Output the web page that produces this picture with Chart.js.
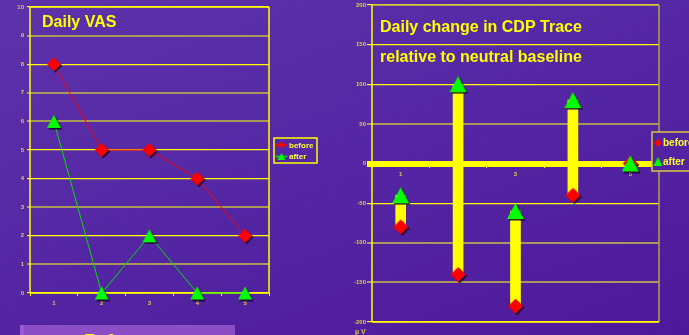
<!DOCTYPE html>
<html>
<head>
<meta charset="utf-8">
<script src="https://cdn.jsdelivr.net/npm/chart.js@4.4.1/dist/chart.umd.min.js"></script>
<style>
  html, body {
    margin: 0; padding: 0; width: 689px; height: 335px; overflow: hidden;
    background: linear-gradient(160deg, #5c32aa 0%, #5426a4 50%, #4e189a 100%);
    font-family: "Liberation Sans", Arial, sans-serif;
  }
  #vas { position: absolute; left: 0; top: 0; }
  #cdp { position: absolute; left: 330px; top: 0; }
  #refbtn {
    position: absolute; left: 20px; top: 325px; width: 215px; height: 30px;
    background: #8c4ec5; border-left: 4px solid #9c5ad2; box-sizing: border-box;
  }
  #refbtn span {
    position: absolute; left: 60px; top: 6px;
    font: bold 18px "Liberation Sans", Arial, sans-serif; color: #ffff00;
  }
</style>
</head>
<body>
<canvas id="vas" width="330" height="335"></canvas>
<canvas id="cdp" width="359" height="335"></canvas>
<div id="refbtn"><span>Reference</span></div>
<script>
// Days of the study
const days = ['1', '2', '3', '4', '5'];

// Daily VAS scores
const vasBefore = [8, 5, 5, 4, 2];
const vasAfter = [6, 0, 2, 0, 0];
const vasRange = [0, 10, 1];          // min, max, step
const vasDimLines = [9, 7, 6, 3, 1];  // faded grid rows

// Daily change in CDP trace (µV) relative to neutral baseline
const cdpBefore = [-80, -140, -180, -40, 0];
const cdpAfter = [-40, 100, -60, 80, 0];
const cdpRange = [-200, 200, 50];
const cdpDimLines = [50, -100, -150];

const YELLOW = '#ffff00';
const KHAKI = '#a8985a';
const TICK_TXT = '#dccc4c';
const BG = '#5224a2';

// Marker bitmaps with a small drop shadow, centred on their box
function makeMarker(shape, w, h, color, shadow) {
  const pad = 2;
  const c = document.createElement('canvas');
  c.width = Math.ceil(w + pad * 2);
  c.height = Math.ceil(h + pad * 2);
  const g = c.getContext('2d');
  const cx = c.width / 2, cy = c.height / 2;
  const path = (ox, oy) => {
    g.beginPath();
    if (shape === 'diamond') {
      g.moveTo(cx + ox, cy - h / 2 + oy);
      g.lineTo(cx + w / 2 + ox, cy + oy);
      g.lineTo(cx + ox, cy + h / 2 + oy);
      g.lineTo(cx - w / 2 + ox, cy + oy);
    } else {
      g.moveTo(cx + ox, cy - h / 2 + oy);
      g.lineTo(cx + w / 2 + ox, cy + h / 2 + oy);
      g.lineTo(cx - w / 2 + ox, cy + h / 2 + oy);
    }
    g.closePath();
  };
  if (shadow) { path(1.5, 1.5); g.fillStyle = 'rgba(25,0,35,0.85)'; g.fill(); }
  path(0, 0); g.fillStyle = color; g.fill();
  return c;
}

const vasDiamond = makeMarker('diamond', 14, 14, '#ff0000', true);
const vasTriangle = makeMarker('triangle', 14, 13, '#00ff00', true);
const cdpDiamond = makeMarker('diamond', 15, 15, '#ff0000', true);
const cdpTriangle = makeMarker('triangle', 17, 16, '#00ff00', true);
const legDiamondS = makeMarker('diamond', 7, 7, '#ff0000', false);
const legTriangleS = makeMarker('triangle', 8, 7, '#00ff00', false);
const legDiamondL = makeMarker('diamond', 8, 8, '#ff0000', false);
const legTriangleL = makeMarker('triangle', 9, 9, '#00ff00', false);

// Plot-area frame, each side with its own colour
const framePlugin = {
  id: 'frame',
  beforeDatasetsDraw(chart, args, opts) {
    const { ctx, chartArea: a } = chart;
    const [top, right, bottom, left] = opts.colors;
    ctx.save();
    ctx.lineWidth = opts.width;
    const seg = (c, x1, y1, x2, y2) => {
      ctx.strokeStyle = c; ctx.beginPath(); ctx.moveTo(x1, y1); ctx.lineTo(x2, y2); ctx.stroke();
    };
    seg(top, a.left, a.top, a.right, a.top);
    seg(right, a.right, a.top, a.right, a.bottom);
    seg(bottom, a.left, a.bottom, a.right, a.bottom);
    seg(left, a.left, a.top, a.left, a.bottom);
    ctx.restore();
  }
};

// Free text (titles, unit label)
const notesPlugin = {
  id: 'notes',
  afterDraw(chart, args, opts) {
    const ctx = chart.ctx;
    ctx.save();
    for (const n of opts.items) {
      ctx.font = n.font;
      ctx.fillStyle = n.color;
      ctx.textAlign = n.align || 'left';
      ctx.textBaseline = 'alphabetic';
      ctx.fillText(n.text, n.x, n.y);
    }
    ctx.restore();
  }
};

// Boxed legend built from the dataset labels
const boxLegendPlugin = {
  id: 'boxLegend',
  afterDraw(chart, args, opts) {
    const ctx = chart.ctx;
    ctx.save();
    ctx.fillStyle = opts.fill;
    ctx.fillRect(opts.x, opts.y, opts.w, opts.h);
    ctx.strokeStyle = opts.border;
    ctx.lineWidth = 1.5;
    ctx.strokeRect(opts.x, opts.y, opts.w, opts.h);
    ctx.font = opts.font;
    ctx.fillStyle = opts.textColor;
    ctx.textBaseline = 'middle';
    opts.entries.forEach((e) => {
      const ds = chart.data.datasets[e.dataset];
      if (e.line) {
        ctx.strokeStyle = e.line;
        ctx.lineWidth = 1.5;
        ctx.beginPath();
        ctx.moveTo(e.mx - 6, e.y); ctx.lineTo(e.mx + 6, e.y);
        ctx.stroke();
      }
      ctx.drawImage(e.marker, e.mx - e.marker.width / 2, e.y - e.marker.height / 2);
      ctx.fillStyle = opts.textColor;
      ctx.fillText(ds.label, e.tx, e.y + 0.5);
    });
    ctx.restore();
  }
};

Chart.register(framePlugin, notesPlugin, boxLegendPlugin);

// ---- Daily VAS ----
new Chart(document.getElementById('vas'), {
  type: 'line',
  data: {
    labels: days,
    datasets: [
      { label: 'after', data: vasAfter, showLine: false, pointStyle: vasTriangle, pointRadius: 7, clip: false, order: 0 },
      { label: 'before', data: vasBefore, showLine: false, pointStyle: vasDiamond, pointRadius: 7, clip: false, order: 1 },
      { label: 'after', data: vasAfter, borderColor: '#00e000', borderWidth: 1, pointRadius: 0, tension: 0, clip: false, order: 2 },
      { label: 'before', data: vasBefore, borderColor: '#ff0000', borderWidth: 1, pointRadius: 0, tension: 0, clip: false, order: 3 }
    ]
  },
  options: {
    responsive: false,
    animation: false,
    events: [],
    layout: { autoPadding: false, padding: { top: 7, right: 61, bottom: 0, left: 0 } },
    scales: {
      x: {
        offset: true,
        border: { display: false },
        grid: { offset: true, drawOnChartArea: false, drawTicks: true, tickLength: 3, color: YELLOW, lineWidth: 1 },
        ticks: { color: TICK_TXT, font: { size: 6, weight: 'bold', family: 'Liberation Sans' }, padding: 4, maxRotation: 0, autoSkip: false },
        afterFit: (s) => { s.height = 42; }
      },
      y: {
        min: vasRange[0], max: vasRange[1],
        border: { display: false },
        grid: {
          tickLength: 3,
          color: (c) => vasDimLines.includes(c.tick.value) ? KHAKI : YELLOW,
          lineWidth: (c) => vasDimLines.includes(c.tick.value) ? 2 : 1.2
        },
        ticks: { stepSize: vasRange[2], color: TICK_TXT, font: { size: 6, weight: 'bold', family: 'Liberation Sans' }, padding: 3 },
        afterFit: (s) => { s.width = 30; }
      }
    },
    plugins: {
      legend: { display: false },
      tooltip: { enabled: false },
      frame: { width: 1.5, colors: [YELLOW, YELLOW, YELLOW, YELLOW] },
      notes: {
        items: [
          { text: 'Daily VAS', x: 42, y: 27, font: 'bold 16px "Liberation Sans", Arial, sans-serif', color: '#ffff00' }
        ]
      },
      boxLegend: {
        x: 274, y: 138, w: 43, h: 25, fill: 'rgba(0,0,0,0)', border: YELLOW,
        font: 'bold 8px "Liberation Sans", Arial, sans-serif', textColor: '#ffff30',
        entries: [
          { dataset: 1, marker: legDiamondS, line: '#ff0000', mx: 281.5, tx: 289, y: 145 },
          { dataset: 0, marker: legTriangleS, line: '#00e000', mx: 281.5, tx: 289, y: 156.5 }
        ]
      }
    }
  }
});

// ---- Daily change in CDP trace ----
new Chart(document.getElementById('cdp'), {
  type: 'bar',
  data: {
    labels: days,
    datasets: [
      { type: 'line', label: 'after', data: cdpAfter, showLine: false, pointStyle: cdpTriangle, pointRadius: 8, clip: false, order: 0 },
      { type: 'line', label: 'before', data: cdpBefore, showLine: false, pointStyle: cdpDiamond, pointRadius: 8, clip: false, order: 1 },
      { type: 'bar', label: 'change', data: cdpBefore.map((b, i) => [b, cdpAfter[i]]), backgroundColor: YELLOW, borderWidth: 0, barThickness: 10, order: 2 }
    ]
  },
  options: {
    responsive: false,
    animation: false,
    events: [],
    layout: { autoPadding: false, padding: { top: 5, right: 30, bottom: 13, left: 0 } },
    scales: {
      x: {
        position: { y: 0 },
        offset: true,
        border: { display: false },
        grid: { offset: true, drawOnChartArea: false, drawTicks: true, tickLength: 4, color: YELLOW, lineWidth: 1 },
        ticks: {
          color: TICK_TXT, font: { size: 6, weight: 'bold', family: 'Liberation Sans' }, padding: 3,
          maxRotation: 0, autoSkip: false,
          callback: (v, i) => (i % 2 === 0 ? days[i] : '')
        }
      },
      y: {
        min: cdpRange[0], max: cdpRange[1],
        border: { display: false },
        grid: {
          tickLength: 5,
          color: (c) => cdpDimLines.includes(c.tick.value) ? KHAKI : YELLOW,
          lineWidth: (c) => c.tick.value === 0 ? 6 : (cdpDimLines.includes(c.tick.value) ? 2 : 1.2)
        },
        ticks: { stepSize: cdpRange[2], color: TICK_TXT, font: { size: 6, weight: 'bold', family: 'Liberation Sans' }, padding: 1 },
        afterFit: (s) => { s.width = 42; }
      }
    },
    plugins: {
      legend: { display: false },
      tooltip: { enabled: false },
      frame: { width: 1.5, colors: ['#c8b848', '#b0a050', YELLOW, YELLOW] },
      notes: {
        items: [
          { text: 'Daily change in CDP Trace', x: 50, y: 32, font: 'bold 16px "Liberation Sans", Arial, sans-serif', color: '#ffff00' },
          { text: 'relative to neutral baseline', x: 50, y: 61.5, font: 'bold 16px "Liberation Sans", Arial, sans-serif', color: '#ffff00' },
          { text: 'µ V', x: 25, y: 334, font: 'bold 7px "Liberation Sans", Arial, sans-serif', color: '#d8c850' }
        ]
      },
      boxLegend: {
        x: 322, y: 132, w: 60, h: 39, fill: BG, border: '#d8c840',
        font: 'bold 10px "Liberation Sans", Arial, sans-serif', textColor: '#ffff30',
        entries: [
          { dataset: 1, marker: legDiamondL, mx: 328, tx: 333, y: 143 },
          { dataset: 0, marker: legTriangleL, mx: 328, tx: 333, y: 161.5 }
        ]
      }
    }
  }
});
</script>
</body>
</html>
